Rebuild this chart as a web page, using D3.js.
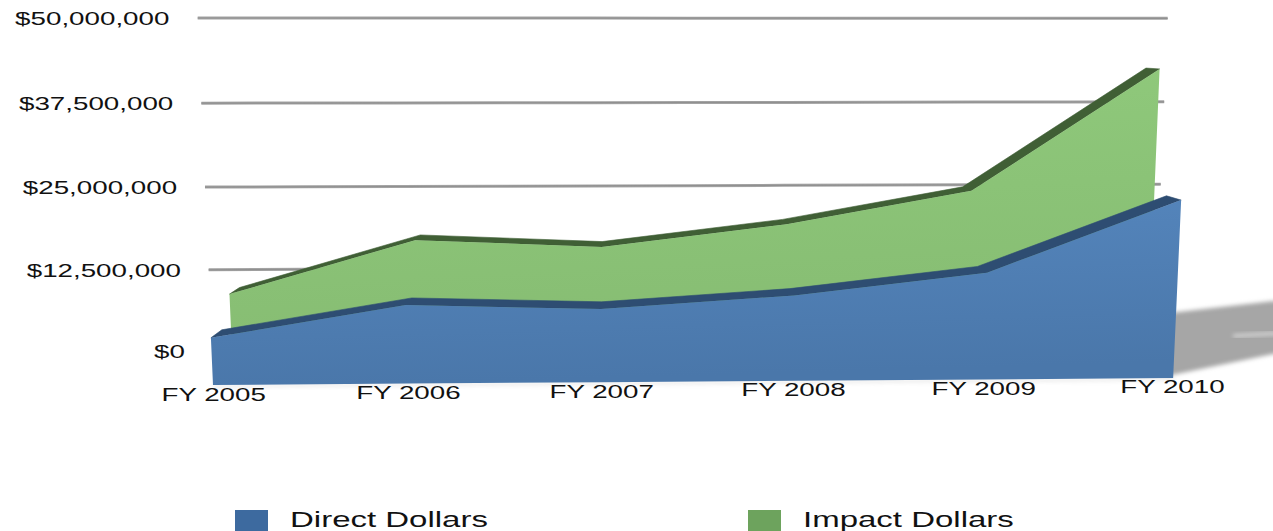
<!DOCTYPE html>
<html><head><meta charset="utf-8">
<script src="https://cdn.jsdelivr.net/npm/d3@7"></script>
<style>html,body{margin:0;padding:0;background:#fff;overflow:hidden}</style>
</head><body>
<svg id="chart" width="1273" height="531"></svg>
<script>
// ---- data ----
const categories = ["FY 2005","FY 2006","FY 2007","FY 2008","FY 2009","FY 2010"];
const directDollars = [6.45e6, 10.85e6, 10.15e6, 11.9e6, 14.95e6, 24.95e6];
const impactDollars = [10.7e6, 18.4e6, 17.3e6, 20.5e6, 25.25e6, 42.7e6];
const yTicks = [0, 12.5e6, 25e6, 37.5e6, 50e6];
const seriesNames = ["Direct Dollars", "Impact Dollars"];

// ---- setup ----
const svg = d3.select("#chart");
const FONT = "'Liberation Sans', Arial, Helvetica, sans-serif";
const SX = 1.5; // horizontal stretch of the original picture

// simple perspective camera
const VPx = 625, VPy = 35, R = 2.1e-5, KV = 9.2e-5, CX = 690, YREF = 385, WARP = 9e-5;
const x = d3.scalePoint().domain(categories).range([213, 1184]);
const y = d3.scaleLinear().domain([0, 50e6]).range([385, 16.17]);
const X0 = x(categories[0]);
function proj(X, Y, Z) {
  const s = 1 / (1 + Z + R * (X - X0));
  let px = VPx + (X - VPx) * s;
  let py = VPy + (Y - VPy) * s;
  px = CX + (px - CX) * (1 + KV * (YREF - py));
  py = py + WARP * Math.max(0, (py - 18) * (351 - py));
  return [px, py];
}
const Z_BLUE = 0, Z_BLUE_BACK = 0.028, Z_GREEN = 0.052, Z_GREEN_BACK = 0.08, Z_GRID = 0.1076;
const gx0 = x(categories[0]) - 0.222 * x.step();
const gx1 = x(categories[categories.length - 1]) + 0.185 * x.step();

const defs = svg.append("defs");
function grad(id, c1, c2) {
  const g = defs.append("linearGradient").attr("id", id).attr("x1", 0).attr("y1", 0).attr("x2", 0.15).attr("y2", 1);
  g.append("stop").attr("offset", "0%").attr("stop-color", c1);
  g.append("stop").attr("offset", "100%").attr("stop-color", c2);
}
grad("gBlue", "#5586bd", "#4a77aa");
grad("gGreen", "#90ca7c", "#86bc72");
defs.append("filter").attr("id", "blur2").attr("x", "-20%").attr("y", "-50%").attr("width", "140%").attr("height", "200%")
  .append("feGaussianBlur").attr("stdDeviation", 2);

const line = d3.line();

// ---- gridlines ----
const gridG = svg.append("g");
yTicks.forEach(t => {
  const pts = d3.range(0, 11).map(k => proj(gx0 + (gx1 - gx0) * k / 10, y(t), Z_GRID));
  gridG.append("path").attr("d", line(pts)).attr("fill", "none")
    .attr("stroke", "#a4a4a4").attr("stroke-width", 3);
  gridG.append("path").attr("d", line(pts)).attr("fill", "none")
    .attr("stroke", "#909090").attr("stroke-width", 1.2);
  const [lx, ly] = proj(gx0 - 30, y(t), Z_GRID);
  gridG.append("text")
    .attr("transform", `translate(${lx},${ly}) scale(${SX},1)`)
    .attr("text-anchor", "end").attr("dy", "0.36em")
    .attr("font-family", FONT).attr("font-size", 18.5).attr("fill", "#111")
    .text("$" + d3.format(",")(t));
});

// ---- series drawing ----
function drawSeries(values, zFront, zBack, fill, bandColor) {
  const g = svg.append("g");
  const top = categories.map((c, i) => proj(x(c), y(values[i]), zFront));
  const topBack = categories.map((c, i) => proj(x(c), y(values[i]), zBack));
  const bottom = categories.map(c => proj(x(c), y(0), zFront));
  g.append("path").attr("d", line(top.concat(topBack.slice().reverse())) + "Z")
    .attr("fill", bandColor).attr("stroke", bandColor).attr("stroke-width", 0.6).attr("stroke-linejoin", "round");
  g.append("path").attr("d", line(top.concat(bottom.slice().reverse())) + "Z")
    .attr("fill", fill);
  return g;
}

drawSeries(impactDollars, Z_GREEN, Z_GREEN_BACK, "url(#gGreen)", "#405f35");

// shadow on the floor to the right (decoration, anchored at the front right corner)
const [brx, bry] = proj(x(categories[5]), y(0), Z_BLUE);
svg.append("path")
  .attr("d", line([[brx - 4, bry - 65], [brx + 110, bry - 78], [brx + 110, bry - 26], [brx - 6, bry - 2]]) + "Z")
  .attr("fill", "#a6a6a6").attr("filter", "url(#blur2)");
svg.append("path")
  .attr("d", line([[brx + 60, bry - 42], [brx + 110, bry - 45]]))
  .attr("stroke", "#ffffff").attr("stroke-width", 3).attr("opacity", 0.6).attr("filter", "url(#blur2)");

// floor line under the front series
const floor = categories.map(c => proj(x(c), y(0) + 1, Z_BLUE));
svg.append("path").attr("d", line(floor)).attr("fill", "none")
  .attr("stroke", "#c8c8c8").attr("stroke-width", 2).attr("opacity", 0.6).attr("filter", "url(#blur2)");

drawSeries(directDollars, Z_BLUE, Z_BLUE_BACK, "url(#gBlue)", "#2e4d72");

// ---- x axis labels ----
categories.forEach(c => {
  const [lx, ly] = proj(x(c), y(0) + 15.5, Z_BLUE);
  svg.append("text")
    .attr("transform", `translate(${lx},${ly}) scale(${SX},1)`)
    .attr("text-anchor", "middle")
    .attr("font-family", FONT).attr("font-size", 18.5).attr("fill", "#111")
    .text(c);
});

// ---- legend ----
const legendColors = ["#3d6a9f", "#6da35d"];
const legendX = [235, 748];
seriesNames.forEach((n, i) => {
  svg.append("rect").attr("x", legendX[i]).attr("y", 510).attr("width", 33).attr("height", 22)
    .attr("fill", legendColors[i]);
  svg.append("text")
    .attr("transform", `translate(${legendX[i] + 55},527) scale(${SX},1)`)
    .attr("font-family", FONT).attr("font-size", 22).attr("fill", "#111")
    .text(n);
});
</script>
</body></html>
